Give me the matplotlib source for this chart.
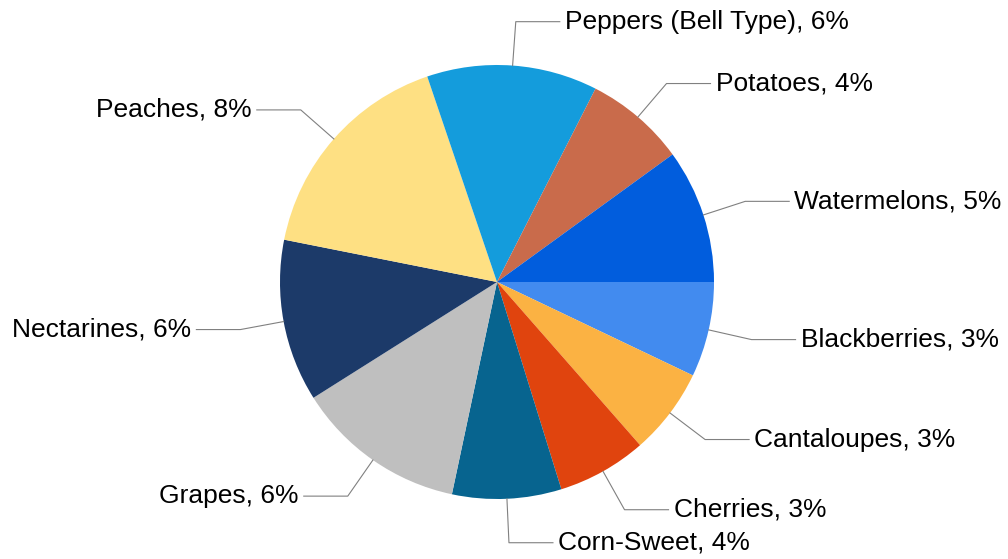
import matplotlib.pyplot as plt
import numpy as np

plt.rcParams['font.family'] = ['Liberation Sans', 'DejaVu Sans']

# values (percent), clockwise from 3 o'clock
crops = ['Blackberries', 'Cantaloupes', 'Cherries', 'Corn-Sweet', 'Grapes',
         'Nectarines', 'Peaches', 'Peppers (Bell Type)', 'Potatoes', 'Watermelons']
shares = [3.4, 3.1, 3.2, 3.9, 6.1, 5.8, 8.0, 6.1, 3.6, 4.8]
colors = ['#428BEF', '#FBB243', '#E0440E', '#07648F', '#BFBFBF',
          '#1C3A69', '#FEE083', '#149CDC', '#C96B4B', '#015DDD']

W, H = 1008, 559
cx, cy, r = 497, 282, 217

fig = plt.figure(figsize=(W / 100, H / 100), dpi=100)
ax = fig.add_axes([0, 0, 1, 1])

wedges, _ = ax.pie(shares, colors=colors, startangle=0, counterclock=True,
                   center=(cx, cy), radius=r, wedgeprops=dict(linewidth=0))

ax.set_xlim(0, W)
ax.set_ylim(H, 0)  # y down, so the pie runs clockwise on screen
ax.set_aspect('equal')
ax.axis('off')

for w, name, v in zip(wedges, crops, shares):
    ang = np.deg2rad((w.theta1 + w.theta2) / 2)
    c, s = np.cos(ang), np.sin(ang)
    x0, y0 = cx + r * c, cy + r * s
    x1, y1 = cx + (r + 44) * c, cy + (r + 44) * s
    side = 1 if c >= 0 else -1
    x2 = x1 + side * 44
    ax.plot([x0, x1, x2], [y0, y1, y1], color='#808080', lw=0.8)
    ax.text(x2 + side * 5, y1, f'{name}, {round(v)}%', fontsize=19,
            ha='left' if side > 0 else 'right', va='center', color='black')

fig.savefig('out.png', dpi=100)
